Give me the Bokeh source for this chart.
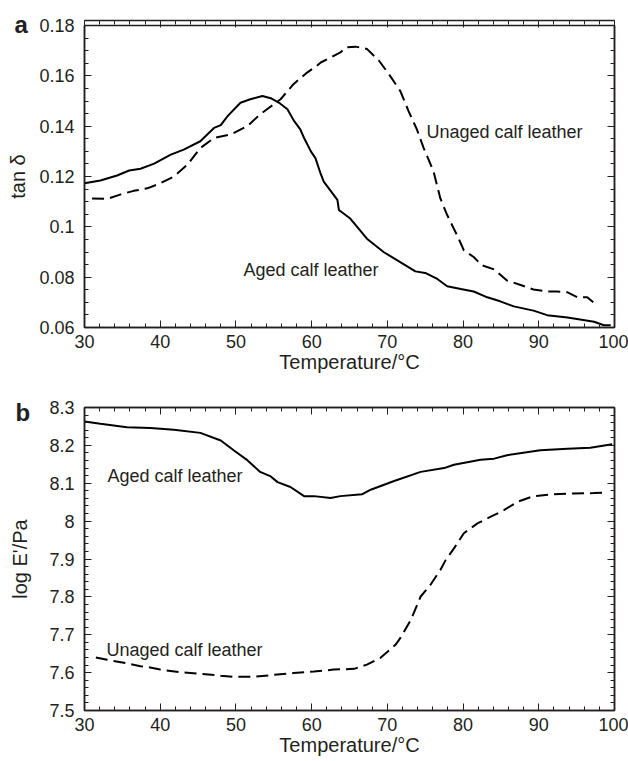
from bokeh.plotting import figure
from bokeh.layouts import column
from bokeh.models import (LinearAxis, SingleIntervalTicker, Range1d, Label, Title,
                          CustomJSTickFormatter)
from bokeh.embed import file_html
from bokeh.resources import INLINE

# ---------------- data ----------------
# Panel a: tan delta vs temperature
a_aged_T = [30, 32.1, 34.3, 35.9, 37.4, 39.2, 41.4, 43.1, 45.3, 47.1, 48.0, 48.9,
            50.6, 51.9, 53.5, 54.6, 55.7, 56.8, 57.7, 58.5, 59.0, 59.9, 60.5, 61.2,
            61.6, 63.4, 63.6, 65.1, 67.3, 69.5, 71.7, 73.7, 75.0, 76.6, 77.9, 79.7,
            81.4, 83.2, 84.9, 86.7, 89.3, 91.1, 93.8, 97.3, 98.6, 99.5]
a_aged_tan = [0.1173, 0.1184, 0.1204, 0.1224, 0.1231, 0.1251, 0.1287, 0.1307, 0.1340,
              0.1393, 0.1404, 0.1440, 0.1493, 0.1507, 0.1520, 0.1511, 0.1493, 0.1467,
              0.1420, 0.1387, 0.1353, 0.1300, 0.1273, 0.1210, 0.1180, 0.1107, 0.1067,
              0.1033, 0.0953, 0.0900, 0.0860, 0.0823, 0.0817, 0.0793, 0.0764, 0.0753,
              0.0743, 0.0720, 0.0704, 0.0684, 0.0667, 0.0649, 0.0640, 0.0623, 0.0609,
              0.0609]
a_unaged_T = [31.0, 33.0, 34.8, 36.5, 38.3, 40.0, 41.8, 43.6, 45.3, 47.1, 49.3, 51.5,
              53.2, 54.1, 55.9, 57.6, 59.4, 60.7, 61.2, 63.8, 64.5, 65.8, 67.3, 68.9,
              70.2, 71.7, 72.8, 73.9, 74.8, 76.1, 77.0, 77.9, 79.2, 80.1, 81.4, 82.5,
              84.1, 85.8, 87.6, 89.3, 91.1, 92.4, 93.8, 95.1, 96.4, 97.5]
a_unaged_tan = [0.1113, 0.1111, 0.1129, 0.1143, 0.1153, 0.1173, 0.1200, 0.1247, 0.1313,
                0.1353, 0.1367, 0.1400, 0.1447, 0.1467, 0.1507, 0.1567, 0.1613, 0.1640,
                0.1653, 0.1693, 0.1713, 0.1716, 0.1707, 0.1660, 0.1607, 0.1540, 0.1460,
                0.1387, 0.1313, 0.1220, 0.1113, 0.1047, 0.0967, 0.0907, 0.0880, 0.0847,
                0.0831, 0.0787, 0.0769, 0.0751, 0.0743, 0.0743, 0.0740, 0.0720, 0.0720,
                0.0693]

# Panel b: log E' vs temperature
b_aged_T = [30, 32.1, 35.6, 38.7, 41.8, 45.3, 48.0, 49.7, 51.5, 53.2, 54.6, 55.5, 57.2,
            59.0, 60.3, 62.5, 63.8, 66.7, 67.8, 70.9, 74.4, 77.5, 78.8, 82.3, 84.1,
            85.8, 90.2, 93.8, 96.8, 99.7]
b_aged_E = [8.263, 8.257, 8.248, 8.246, 8.241, 8.233, 8.213, 8.187, 8.161, 8.130, 8.118,
            8.103, 8.090, 8.066, 8.066, 8.061, 8.066, 8.071, 8.083, 8.106, 8.130, 8.140,
            8.149, 8.162, 8.165, 8.174, 8.187, 8.191, 8.194, 8.203]
b_unaged_T = [31.5, 33.0, 35.2, 37.4, 38.3, 40.0, 42.7, 45.3, 48.0, 49.7, 52.4, 55.0,
              57.6, 60.3, 62.9, 65.6, 67.3, 69.1, 71.1, 71.7, 73.1, 74.4, 75.7, 77.0,
              77.7, 78.8, 80.1, 81.9, 83.6, 85.4, 87.2, 89.3, 92.0, 94.6, 97.3, 99.0]
b_unaged_E = [7.640, 7.634, 7.626, 7.617, 7.615, 7.608, 7.601, 7.597, 7.592, 7.589,
              7.589, 7.594, 7.599, 7.603, 7.608, 7.610, 7.621, 7.639, 7.674, 7.691,
              7.739, 7.801, 7.832, 7.871, 7.897, 7.928, 7.968, 7.994, 8.011, 8.029,
              8.051, 8.066, 8.071, 8.073, 8.074, 8.076]

x_title = "Temperature/°C"
a_y_title = "tan δ"
b_y_title = "log E'/Pa"
aged_label = "Aged calf leather"
unaged_label = "Unaged calf leather"

FONT = "Liberation Sans"
INK = "#231f20"


def style_axis(ax, show_labels, standoff):
    ax.axis_line_color = INK
    ax.axis_line_width = 1.5
    ax.major_tick_in = 7
    ax.major_tick_out = 0
    ax.minor_tick_in = 4
    ax.minor_tick_out = 0
    ax.major_tick_line_color = INK
    ax.minor_tick_line_color = INK
    ax.major_tick_line_width = 1
    ax.minor_tick_line_width = 1
    ax.major_label_text_font = FONT
    ax.major_label_text_color = INK
    ax.major_label_text_font_size = "18px"
    ax.axis_label_text_font = FONT
    ax.axis_label_text_font_size = "20px"
    ax.axis_label_text_font_style = "normal"
    ax.axis_label_text_color = INK
    if show_labels:
        ax.major_label_standoff = standoff
    else:
        ax.major_label_standoff = 0
        ax.formatter = CustomJSTickFormatter(code="return '';")


def make_fig(height, btop, bbot, yr, y_int, y_minor, letter, letter_offset,
             letter_standoff, ytitle, ytitle_standoff):
    p = figure(width=628, height=height, output_backend="svg", toolbar_location=None,
               x_range=Range1d(30, 100), y_range=Range1d(*yr),
               x_axis_type=None, y_axis_type=None,
               min_border_left=84, min_border_right=14,
               min_border_top=btop, min_border_bottom=bbot)
    p.outline_line_color = INK
    p.outline_line_width = 1.5
    p.background_fill_color = "white"
    p.border_fill_color = "white"
    # panel letter (placed first so it sits next to the frame)
    p.add_layout(Title(text=letter, align="left", vertical_align="bottom",
                       offset=letter_offset, standoff=letter_standoff,
                       text_font=FONT, text_font_size="24px", text_font_style="bold",
                       text_color=INK), "above")
    xt = SingleIntervalTicker(interval=10, num_minor_ticks=5)
    yt = SingleIntervalTicker(interval=y_int, num_minor_ticks=y_minor)
    fmt = CustomJSTickFormatter(code="return String(Number(tick.toPrecision(3)));")
    xb = LinearAxis(ticker=xt, axis_label=x_title)
    style_axis(xb, True, 7)
    xb.axis_label_standoff = 0
    p.add_layout(xb, "below")
    xa = LinearAxis(ticker=xt)
    style_axis(xa, False, 0)
    p.add_layout(xa, "above")
    yl = LinearAxis(ticker=yt, formatter=fmt, axis_label=ytitle)
    style_axis(yl, True, 10)
    yl.axis_label_standoff = ytitle_standoff
    p.add_layout(yl, "left")
    yr_ax = LinearAxis(ticker=yt)
    style_axis(yr_ax, False, 0)
    p.add_layout(yr_ax, "right")
    return p


def txt(p, x, y, text):
    p.add_layout(Label(x=x, y=y, text=text, text_font=FONT, text_font_size="18px",
                       text_color=INK, text_align="left", text_baseline="alphabetic"))


# ---------------- panel a ----------------
pa = make_fig(378, 25, 51, (0.06, 0.18), 0.02, 4, "a", -70, -24, a_y_title, 7)
pa.line(a_aged_T, a_aged_tan, line_color="black", line_width=2)
pa.line(a_unaged_T, a_unaged_tan, line_color="black", line_width=2, line_dash="12 6")
txt(pa, 75.17, 0.13788, unaged_label)
txt(pa, 51.0, 0.08293, aged_label)

# ---------------- panel b ----------------
pb = make_fig(383, 29, 51, (7.5, 8.3), 0.1, 5, "b", -69, -36, b_y_title, 15)
pb.line(b_aged_T, b_aged_E, line_color="black", line_width=2)
pb.line(b_unaged_T, b_unaged_E, line_color="black", line_width=2, line_dash="12 6")
txt(pb, 33.04, 8.1184, aged_label)
txt(pb, 32.9, 7.6605, unaged_label)

layout = column(pa, pb, spacing=0)
open("out.html", "w").write(file_html(layout, INLINE))
